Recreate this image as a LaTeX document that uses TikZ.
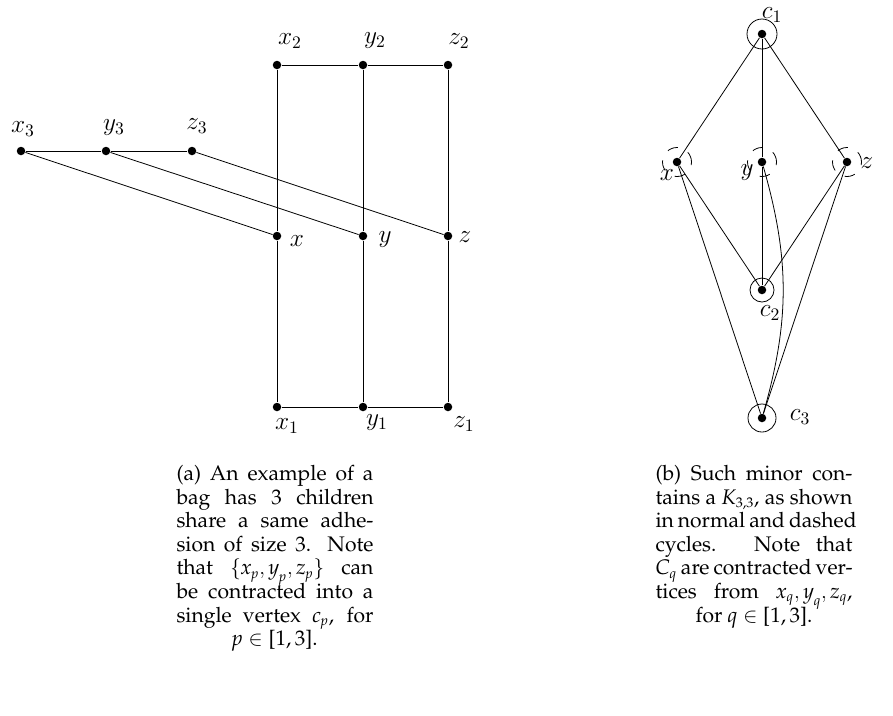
\documentclass[tikz,border=0pt]{standalone}
\usepackage{amsmath}
\usepackage{tikz}
\newcommand{\pit}[1]{\text{\itshape #1}}
\newcommand{\capfmt}{\fontencoding{OT1}\fontfamily{ppl}\fontsize{12pt}{13.4pt}\selectfont\lineskiplimit=-6pt}
\newcommand{\jl}[1]{\makebox[39.4mm][s]{#1}}

\begin{document}
\begin{tikzpicture}[x=0.2mm,y=-0.2mm,line width=0.45pt,
 dot/.style={circle,fill,inner sep=0pt,minimum size=1.7mm},
 ring/.style={circle,draw,inner sep=0pt},
 dring/.style={circle,draw,inner sep=0pt,minimum size=5.8mm,dash pattern=on 6pt off 6.5pt},
 lbl/.style={inner sep=0pt,font=\Large},
 captext/.style={align=center,font=\capfmt,inner sep=0pt,anchor=north}]
\useasboundingbox (0,0) rectangle (893,715);
% (a) three children sharing one adhesion
\node[dot] (x2) at (277,65) {};
\node[dot] (y2) at (363,65) {};
\node[dot] (z2) at (448,65) {};
\node[dot] (x3) at (21,151) {};
\node[dot] (y3) at (106,151) {};
\node[dot] (z3) at (192,151) {};
\node[dot] (x) at (277,236) {};
\node[dot] (y) at (363,236) {};
\node[dot] (z) at (448,236) {};
\node[dot] (x1) at (277,407) {};
\node[dot] (y1) at (363,407) {};
\node[dot] (z1) at (448,407) {};
\node[lbl] (lx2) at (290,41) {$x_2$};
\node[lbl] (ly2) at (375,41) {$y_2$};
\node[lbl] (lz2) at (459,41) {$z_2$};
\node[lbl] (lx3) at (23,129) {$x_3$};
\node[lbl] (ly3) at (114,128) {$y_3$};
\node[lbl] (lz3) at (197,126) {$z_3$};
\node[lbl] (lx) at (297,241) {$x$};
\node[lbl] (ly) at (385,240) {$y$};
\node[lbl] (lz) at (465,237) {$z$};
\node[lbl] (lx1) at (287,426) {$x_1$};
\node[lbl] (ly1) at (377,423) {$y_1$};
\node[lbl] (lz1) at (464,424) {$z_1$};
\draw (x2) -- (y2) -- (z2);
\draw (x1) -- (y1) -- (z1);
\draw (x3) -- (y3) -- (z3);
\draw (x2) -- (x) -- (x1);
\draw (y2) -- (y) -- (y1);
\draw (z2) -- (z) -- (z1);
\draw (x3) -- (x); \draw (y3) -- (y); \draw (z3) -- (z);
% (b) the K_{3,3} minor
\node[dot] (c1) at (762,34) {};
\node[dot] (px) at (677,162) {};
\node[dot] (py) at (762,162) {};
\node[dot] (pz) at (847,162) {};
\node[dot] (c2) at (762,290) {};
\node[dot] (c3) at (762,418) {};
\node[ring,minimum size=6mm] (r1) at (c1) {};
\node[ring,minimum size=4.8mm] (r2) at (c2) {};
\node[ring,minimum size=5.6mm] (r3) at (c3) {};
\node[dring] (dx) at (px) {};
\node[dring] (dy) at (py) {};
\node[dring] (dz) at (pz) {};
\node[lbl] (lc1) at (772,15) {$c_1$};
\node[lbl] (lpx) at (667,175) {$x$};
\node[lbl] (lpy) at (747,173) {$y$};
\node[lbl] (lpz) at (867,163) {$z$};
\node[lbl] (lc2) at (770,313) {$c_2$};
\node[lbl] (lc3) at (800,417) {$c_3$};
\draw (c1) -- (px); \draw (c1) -- (py); \draw (c1) -- (pz);
\draw (px) -- (c2); \draw (py) -- (c2); \draw (pz) -- (c2);
\draw (px) -- (c3); \draw (pz) -- (c3);
\draw (py) to[bend left=16] (c3);
% captions
\node[captext] (capa) at (275,465) {\jl{(a) An example of a}\\
 \jl{bag has 3 children}\\
 \jl{share a same adhe-}\\
 \jl{sion of size 3. Note}\\
 \jl{that $\{\pit{x}_{\pit{p}},\pit{y}_{\pit{p}},\pit{z}_{\pit{p}}\}$ can}\\
 \jl{be contracted into a}\\
 \jl{single vertex $\pit{c}_{\pit{p}}$, for}\\
 $\pit{p}\in\text{[1,\,3]}$.};
\node[captext] (capb) at (754,465) {\jl{(b) Such minor con-}\\
 \jl{tains a $\pit{K}_{\text{3,3}}$, as shown}\\
 \jl{in normal and dashed}\\
 \jl{cycles. Note that}\\
 \jl{$\pit{C}_{\pit{q}}$ are contracted ver-}\\
 \jl{tices from $\pit{x}_{\pit{q}},\pit{y}_{\pit{q}},\pit{z}_{\pit{q}}$,}\\
 for $\pit{q}\in\text{[1,\,3]}$.};
\end{tikzpicture}
\end{document}
